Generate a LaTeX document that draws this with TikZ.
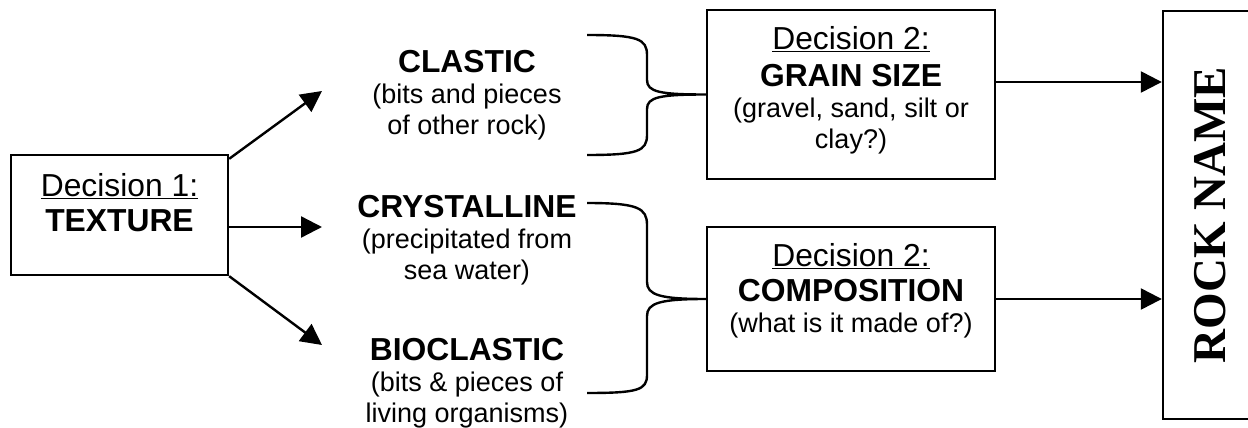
\documentclass[tikz,border=0pt]{standalone}
\usepackage{fontspec}
\setmainfont{Liberation Sans}
\newfontfamily\rockfont{Liberation Serif}
\usetikzlibrary{positioning,arrows.meta}

\tikzset{
  decision box/.style={draw, line width=2.4pt, inner sep=0pt},
  box text/.style={align=center, inner sep=0pt, font=\fontsize{27}{31}\selectfont},
  big arrow/.style={line width=2.4pt, -{Triangle[length=21pt,width=21pt]}},
  curly/.style={line width=2.4pt},
}
\newcommand{\headline}[1]{{\fontsize{31.8}{36}\selectfont #1}}

\begin{document}
\begin{tikzpicture}[x=1pt,y=-1pt]
  \useasboundingbox (0,0) rectangle (1248,428);
  \clip (0,0) rectangle (1248,428);

  % boxes
  \node[decision box, minimum width=217pt, minimum height=120pt] (texture) at (119.5,215) {};
  \node[decision box, minimum width=288pt, minimum height=169pt] (grain) at (851,94.5) {};
  \node[decision box, minimum width=288pt, minimum height=144pt] (comp) at (851,299) {};
  \node[decision box, minimum width=95pt, minimum height=408pt] (rock) at (1210.5,215) {};

  \node[box text, below=19pt of texture.north] (texturetxt)
    {\headline{\underline{Decision 1:}}\\[4pt] \headline{\textbf{TEXTURE}}};
  \node[box text, below=17pt of grain.north] (graintxt)
    {\headline{\underline{Decision 2:}}\\[6pt] \headline{\textbf{GRAIN SIZE}}\\ (gravel, sand, silt or\\ clay?)};
  \node[box text, below=17pt of comp.north] (comptxt)
    {\headline{\underline{Decision 2:}}\\[4pt] \headline{\textbf{COMPOSITION}}\\ (what is it made of?)};
  \node[rotate=90, inner sep=0pt, font=\rockfont\bfseries\fontsize{47}{50}\selectfont] (rocktxt) at (rock.center) {ROCK NAME};

  % kinds of texture
  \node[box text] (clastic) at (467,95.5)
    {\headline{\textbf{CLASTIC}}\\ (bits and pieces\\ of other rock)};
  \node[box text] (crystalline) at (467,240)
    {\headline{\textbf{CRYSTALLINE}}\\ (precipitated from\\ sea water)};
  \node[box text] (bioclastic) at (467,383.4)
    {\headline{\textbf{BIOCLASTIC}}\\ (bits \& pieces of\\ living organisms)};

  \coordinate (toclastic) at (322,91);
  \coordinate (tocryst) at (322,227);
  \coordinate (tobio) at (322,345);
  \draw[big arrow] ([yshift=-5pt]texture.north east) -- (toclastic);
  \draw[big arrow] ([yshift=-12pt]texture.east) -- (tocryst);
  \draw[big arrow] (texture.south east) -- (tobio);

  % braces
  \coordinate (clastictop) at (587,35);
  \coordinate (clasticbot) at (587,155);
  \draw[curly] (clastictop) .. controls (638,35) and (647,39) .. (647,55) -- (647,80)
    .. controls (647,92) and (660,94.5) .. (grain.west)
    .. controls (660,94.5) and (647,97) .. (647,109) -- (647,135)
    .. controls (647,151) and (638,155) .. (clasticbot);
  \coordinate (crysttop) at (587,203);
  \coordinate (biobot) at (587,393);
  \draw[curly] (crysttop) .. controls (638,203) and (647,208) .. (647,225) -- (647,282)
    .. controls (647,295) and (660,299) .. (comp.west)
    .. controls (660,299) and (647,303) .. (647,316) -- (647,375)
    .. controls (647,390) and (638,393) .. (biobot);

  \draw[big arrow] ([yshift=12.5pt]grain.east) -- ([yshift=12.5pt]grain.east -| rock.west);
  \draw[big arrow] (comp.east) -- (comp.east -| rock.west);
\end{tikzpicture}
\end{document}
